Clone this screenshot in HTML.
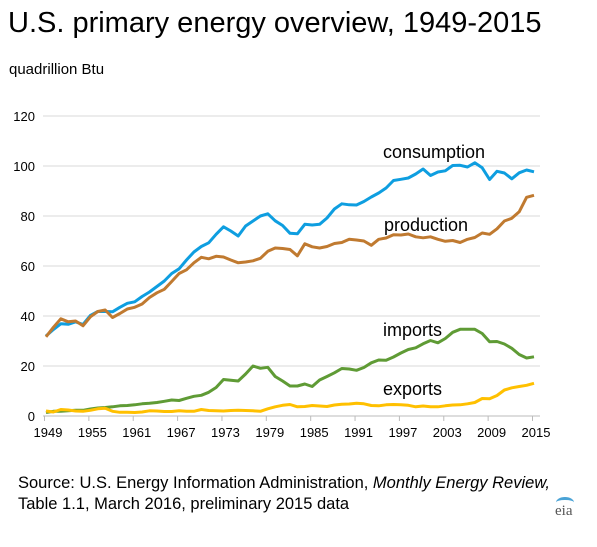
<!DOCTYPE html>
<html><head><meta charset="utf-8"><style>
body{margin:0;background:#fff;font-family:"Liberation Sans",Arial,sans-serif;}
#wrap{position:relative;width:597px;height:547px;overflow:hidden;}
.t{position:absolute;color:#000;white-space:nowrap;}
</style></head><body>
<div id="wrap">
<div class="t" style="left:8px;top:7px;font-size:29px;">U.S. primary energy overview, 1949-2015</div>
<div class="t" style="left:9px;top:61px;font-size:15px;">quadrillion Btu</div>
<svg id="chart" width="597" height="547" style="position:absolute;left:0;top:0;font-family:'Liberation Sans',Arial,sans-serif;"></svg>
<div class="t" style="left:18px;top:473px;font-size:16.5px;line-height:21px;">Source: U.S. Energy Information Administration, <i>Monthly Energy Review,</i><br>Table 1.1, March 2016, preliminary 2015 data</div>
<div class="t" style="left:555px;top:503px;font-size:15px;color:#555;font-family:'Liberation Serif',serif;">eia</div>
<div style="position:absolute;left:556px;top:497px;width:18px;height:8px;border-top:3px solid #4aa3d6;border-radius:50% 50% 0 0;"></div>
</div>
<script>
const years=[];for(let y=1949;y<=2015;y++)years.push(y);
const consumption=[32.0,34.6,36.9,36.7,37.7,36.6,40.2,41.8,41.8,41.7,43.5,45.1,45.7,47.8,49.6,51.8,54.0,57.0,58.9,62.4,65.6,67.8,69.3,72.7,75.7,74.0,72.0,76.0,78.0,80.0,80.9,78.1,76.2,73.1,72.9,76.7,76.4,76.7,79.2,82.8,84.9,84.5,84.4,85.8,87.6,89.2,91.2,94.2,94.7,95.2,96.8,98.8,96.2,97.6,98.1,100.2,100.3,99.6,101.3,99.3,94.6,97.9,97.2,94.9,97.3,98.4,97.7];
const production=[31.7,35.5,38.9,37.7,38.0,36.1,39.7,41.8,42.4,39.4,41.0,42.8,43.5,44.8,47.4,49.3,50.7,53.8,57.0,58.5,61.3,63.5,62.9,63.9,63.6,62.4,61.3,61.6,62.1,63.1,65.9,67.2,67.0,66.6,64.1,68.9,67.7,67.2,67.8,69.0,69.4,70.7,70.4,70.0,68.3,70.7,71.2,72.5,72.4,72.8,71.7,71.3,71.7,70.7,69.9,70.2,69.4,70.7,71.4,73.2,72.7,74.9,78.0,79.1,81.7,87.5,88.3];
const imports=[1.4,1.9,1.9,2.1,2.3,2.3,2.8,3.2,3.4,3.7,4.1,4.2,4.5,4.9,5.1,5.4,5.9,6.4,6.2,7.1,7.9,8.3,9.5,11.4,14.6,14.3,14.0,16.8,20.0,19.1,19.5,15.8,14.0,12.0,12.0,12.8,11.8,14.4,15.8,17.3,19.0,18.8,18.3,19.4,21.3,22.4,22.3,23.6,25.2,26.6,27.3,28.9,30.2,29.3,31.0,33.5,34.7,34.7,34.7,33.0,29.7,29.8,28.8,27.1,24.6,23.2,23.7];
const exports_=[2.0,1.6,2.6,2.4,2.0,1.9,2.3,2.9,3.1,1.9,1.5,1.5,1.4,1.6,2.1,2.0,1.8,1.8,2.1,1.9,1.9,2.6,2.2,2.1,2.0,2.2,2.3,2.2,2.1,1.9,2.9,3.7,4.3,4.6,3.7,3.8,4.2,4.0,3.8,4.4,4.7,4.8,5.1,4.9,4.2,4.1,4.5,4.6,4.5,4.3,3.7,4.0,3.7,3.7,4.1,4.4,4.5,4.9,5.4,7.0,6.9,8.2,10.4,11.3,11.8,12.3,13.1];
const yTicks=[0,20,40,60,80,100,120];
const xTickYears=[1949,1955,1961,1967,1973,1979,1985,1991,1997,2003,2009,2015];
const seriesNames=["consumption","production","imports","exports"];

const NS="http://www.w3.org/2000/svg";
const svg=document.getElementById('chart');
const X0=46,X1=534,Y0=416,Y1=116;
const xs=y=>X0+(y-1949)*(X1-X0)/(2015-1949);
const ys=v=>Y0-v*(Y0-Y1)/120;
function mk(t,a){const e=document.createElementNS(NS,t);for(const k in a)e.setAttribute(k,a[k]);svg.appendChild(e);return e;}
yTicks.forEach(v=>{
  const l=mk('line',{x1:43,x2:540,y1:ys(v),y2:ys(v),stroke:v===0?'#bbb':'#d9d9d9','stroke-width':1});
  
  
  const t=mk('text',{x:35,y:ys(v)+5,'text-anchor':'end','font-size':13,fill:'#000'});t.textContent=v;
  
  
});
xTickYears.forEach(y=>{
  const l=mk('line',{x1:xs(y)-1.5,x2:xs(y)-1.5,y1:416,y2:421,stroke:'#bbb'});
  
  
  const t=mk('text',{x:xs(y)+2,y:437,'text-anchor':'middle','font-size':13,fill:'#000'});t.textContent=y;
  
  
});
const data=[consumption,production,imports,exports_];
const colors=['#0e9ee0','#c07a30','#5f9b35','#ffc000'];
const labelPos=[[383,158],[384,231],[383,336],[383,395]];
data.forEach((arr,i)=>{
  const d=arr.map((v,j)=>(j?'L':'M')+xs(years[j]).toFixed(1)+','+ys(v).toFixed(1)).join('');
  const p=mk('path',{d:d,fill:'none',stroke:colors[i],'stroke-width':3,'stroke-linejoin':'round'});
  
  
  const t=mk('text',{x:labelPos[i][0],y:labelPos[i][1],'font-size':18,fill:'#000'});t.textContent=seriesNames[i];
  
  
});
</script>
</body></html>
